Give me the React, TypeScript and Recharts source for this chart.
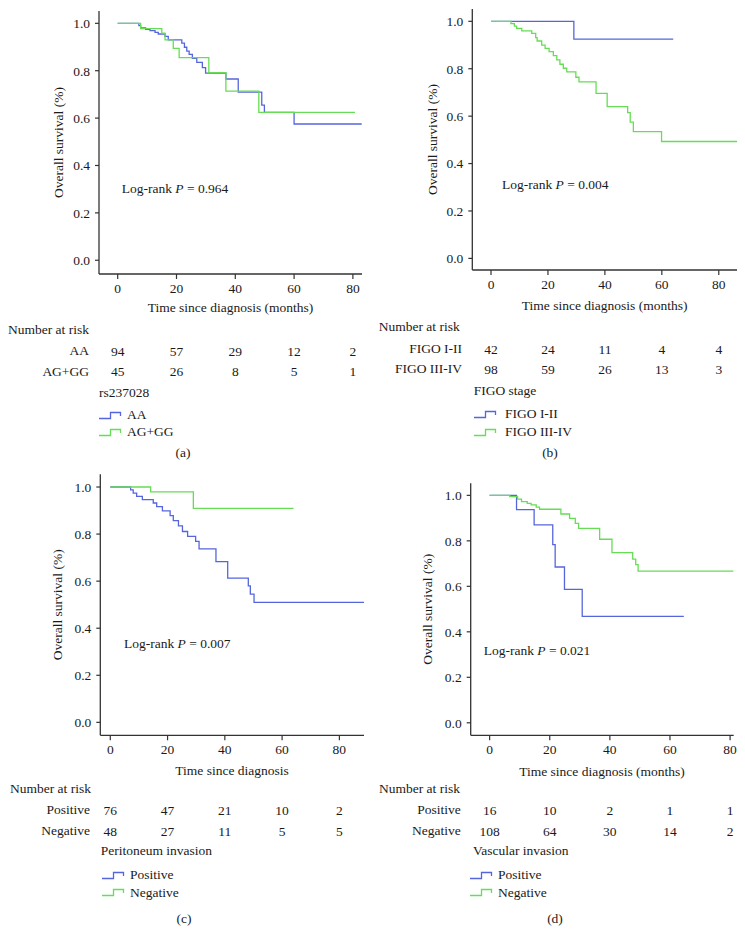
import React from 'react';
import { LineChart, Line, XAxis, YAxis } from 'recharts';

const FONT = '"Liberation Serif", "Times New Roman", serif';
const FS = 13.5;
const BLUE = '#5566dd';
const GREEN = '#66dd55';
const TEXT = '#1a1a1a';

// ---- Data ----
const xTicks = [0, 20, 40, 60, 80];
const yTicks = [0, 0.2, 0.4, 0.6, 0.8, 1.0];

// (a) rs237028
const aAATimes = [0, 7.2, 7.8, 9.5, 11, 12.7, 13.8, 16.1, 17.2, 21.8, 22.7, 23.5, 24.3, 25.4, 26.9, 28.8, 29.9, 36.8, 41, 49, 49.9, 60, 83];
const aAASurv = [1, 0.99, 0.981, 0.975, 0.969, 0.962, 0.955, 0.945, 0.93, 0.916, 0.899, 0.883, 0.869, 0.852, 0.835, 0.813, 0.79, 0.765, 0.71, 0.655, 0.624, 0.575, 0.575];
const aAGTimes = [0, 7.8, 15, 16.1, 18.9, 20.9, 31, 36.8, 48, 80.7];
const aAGSurv = [1, 0.978, 0.958, 0.93, 0.894, 0.855, 0.792, 0.714, 0.624, 0.624];
const aRiskAA = [94, 57, 29, 12, 2];
const aRiskAG = [45, 26, 8, 5, 1];

// (b) FIGO stage
const bI2Times = [0, 29.1, 64];
const bI2Surv = [1, 0.925, 0.925];
const bI34Times = [0, 7.0, 8.2, 9.0, 10.8, 14.3, 15.7, 16.2, 17.8, 19, 20.4, 21.9, 23.1, 24.2, 25.4, 26.6, 29.8, 30.9, 36.9, 40.8, 48, 48.9, 50, 59.9, 86.4];
const bI34Surv = [1, 0.99, 0.98, 0.97, 0.96, 0.949, 0.931, 0.917, 0.9, 0.886, 0.872, 0.855, 0.837, 0.819, 0.802, 0.787, 0.764, 0.745, 0.696, 0.64, 0.615, 0.575, 0.535, 0.493, 0.493];
const bRiskI2 = [42, 24, 11, 4, 4];
const bRiskI34 = [98, 59, 26, 13, 3];

// (c) Peritoneum invasion
const cPosTimes = [0, 7.1, 8.0, 9.2, 11.2, 15, 16.2, 18.2, 20.9, 22, 23.8, 25.2, 27, 29.8, 31, 36.9, 41, 48.2, 48.9, 50.2, 88.6];
const cPosSurv = [1, 0.988, 0.974, 0.96, 0.946, 0.932, 0.917, 0.899, 0.878, 0.857, 0.835, 0.811, 0.79, 0.769, 0.737, 0.683, 0.613, 0.58, 0.545, 0.51, 0.51];
const cNegTimes = [0, 14.1, 29, 64];
const cNegSurv = [1, 0.979, 0.909, 0.909];
const cRiskPos = [76, 47, 21, 10, 2];
const cRiskNeg = [48, 27, 11, 5, 5];

// (d) Vascular invasion
const dPosTimes = [0, 8.95, 14.8, 21, 21.8, 24.9, 30.8, 64.6];
const dPosSurv = [1, 0.937, 0.87, 0.783, 0.685, 0.587, 0.468, 0.468];
const dNegTimes = [0, 6.7, 9.3, 10.6, 12.5, 13.8, 15.5, 16.6, 23.7, 26.6, 28.5, 29.6, 36.6, 40.7, 47.6, 48.6, 49.4, 81.1];
const dNegSurv = [1, 0.994, 0.983, 0.972, 0.965, 0.958, 0.948, 0.939, 0.918, 0.899, 0.877, 0.855, 0.807, 0.748, 0.72, 0.695, 0.667, 0.667];
const dRiskPos = [16, 10, 2, 1, 1];
const dRiskNeg = [108, 64, 30, 14, 2];

const toPoints = (t: number[], s: number[]) => t.map((v, i) => ({ t: v, s: s[i] }));

type Panel = {
  left: number; top: number; width: number; height: number;
  plot: { l: number; r: number; t: number; b: number };
  xDomain: [number, number]; yDomain: [number, number];
  blue: { t: number; s: number }[]; green: { t: number; s: number }[];
  risk1: number[]; risk2: number[];
  rowOff: [number, number];
  yLabelOff: number;
  pVal: string; pX: number; pY: number;
  title: string; titleX: number; titleY: number;
  narX: number; narY: number;
  rowLabelR: number; rowLabels: [string, string];
  group: string; groupX: number; groupY: number;
  legIconX: number; legTextX: number; legY: [number, number];
  caption: string; capX: number; capY: number;
};

const panels: Panel[] = [
  {
    left: 0, top: 0, width: 372, height: 390,
    plot: { l: 99, r: 362, t: 11, b: 274 },
    xDomain: [-6.36, 83.1], yDomain: [-0.058, 1.052],
    blue: toPoints(aAATimes, aAASurv), green: toPoints(aAGTimes, aAGSurv),
    risk1: aRiskAA, risk2: aRiskAG, rowOff: [77, 97.7], yLabelOff: 58,
    pVal: '0.964', pX: 121.7, pY: 189,
    title: 'Time since diagnosis (months)', titleX: 230.5, titleY: 307.7,
    narX: 8, narY: 330, rowLabelR: 89, rowLabels: ['AA', 'AG+GG'],
    group: 'rs237028', groupX: 99, groupY: 393,
    legIconX: 99, legTextX: 127, legY: [415, 432],
    caption: '(a)', capX: 183, capY: 453,
  },
  {
    left: 372, top: 0, width: 373, height: 390,
    plot: { l: 472.3, r: 737, t: 9, b: 270 },
    xDomain: [-6.57, 86.4], yDomain: [-0.049, 1.052],
    blue: toPoints(bI2Times, bI2Surv), green: toPoints(bI34Times, bI34Surv),
    risk1: bRiskI2, risk2: bRiskI34, rowOff: [79, 99], yLabelOff: 60,
    pVal: '0.004', pX: 502, pY: 185,
    title: 'Time since diagnosis (months)', titleX: 604.6, titleY: 306,
    narX: 378.7, narY: 327, rowLabelR: 462, rowLabels: ['FIGO I-II', 'FIGO III-IV'],
    group: 'FIGO stage', groupX: 473.7, groupY: 390.7,
    legIconX: 474, legTextX: 505, legY: [414, 432],
    caption: '(b)', capX: 550, capY: 452.7,
  },
  {
    left: 0, top: 460, width: 372, height: 385,
    plot: { l: 100.3, r: 364, t: 474.3, b: 735.3 },
    xDomain: [-3.49, 88.6], yDomain: [-0.055, 1.054],
    blue: toPoints(cPosTimes, cPosSurv), green: toPoints(cNegTimes, cNegSurv),
    risk1: cRiskPos, risk2: cRiskNeg, rowOff: [75, 95.7], yLabelOff: 57,
    pVal: '0.007', pX: 124, pY: 644,
    title: 'Time since diagnosis', titleX: 232, titleY: 771,
    narX: 10, narY: 789, rowLabelR: 90, rowLabels: ['Positive', 'Negative'],
    group: 'Peritoneum invasion', groupX: 100.7, groupY: 850.7,
    legIconX: 101.7, legTextX: 130, legY: [875, 892.7],
    caption: '(c)', capX: 184, capY: 919,
  },
  {
    left: 372, top: 460, width: 373, height: 385,
    plot: { l: 470.7, r: 733.7, t: 483.3, b: 735.3 },
    xDomain: [-6.3, 81.2], yDomain: [-0.055, 1.053],
    blue: toPoints(dPosTimes, dPosSurv), green: toPoints(dNegTimes, dNegSurv),
    risk1: dRiskPos, risk2: dRiskNeg, rowOff: [75, 95.7], yLabelOff: 55,
    pVal: '0.021', pX: 483.7, pY: 650.7,
    title: 'Time since diagnosis (months)', titleX: 602, titleY: 772.3,
    narX: 379, narY: 789, rowLabelR: 460.7, rowLabels: ['Positive', 'Negative'],
    group: 'Vascular invasion', groupX: 473, groupY: 850.7,
    legIconX: 470, legTextX: 498, legY: [875, 892.7],
    caption: '(d)', capX: 555, capY: 919,
  },
];

function Txt({ x, y, anchor = 'start', children }: { x: number; y: number; anchor?: 'start' | 'end' | 'middle'; children: React.ReactNode }) {
  const style: React.CSSProperties = {
    position: 'absolute', top: y - 8, lineHeight: '16px', fontSize: FS,
    fontFamily: FONT, color: TEXT, whiteSpace: 'nowrap',
  };
  if (anchor === 'start') style.left = x;
  else if (anchor === 'end') style.right = 745 - x;
  else { style.left = x; style.transform = 'translateX(-50%)'; }
  return <div style={style}>{children}</div>;
}

function StepIcon({ x, y, color }: { x: number; y: number; color: string }) {
  return (
    <svg width={24} height={9} style={{ position: 'absolute', left: x, top: y - 4.5 }}>
      <path d="M0,7.5 H11.5 V1.5 H21.5 V5" fill="none" stroke={color} strokeWidth={1.3} />
    </svg>
  );
}

function KMPanel({ p }: { p: Panel }) {
  const axisY = p.plot.b - p.top;
  const xAxisHeight = p.top + p.height - p.plot.b;
  const tick = (props: any) => {
    const { x, payload } = props;
    const i = xTicks.indexOf(payload.value);
    const common = { x, textAnchor: 'middle' as const, dominantBaseline: 'central' as const, fontSize: FS, fontFamily: FONT, fill: TEXT };
    return (
      <g>
        <text {...common} y={axisY + 14}>{payload.value}</text>
        <text {...common} y={axisY + p.rowOff[0]}>{p.risk1[i]}</text>
        <text {...common} y={axisY + p.rowOff[1]}>{p.risk2[i]}</text>
      </g>
    );
  };
  return (
    <div style={{ position: 'absolute', left: p.left, top: p.top }}>
      <LineChart
        width={p.width}
        height={p.height}
        margin={{ top: p.plot.t - p.top, left: 0, right: p.left + p.width - p.plot.r, bottom: 0 }}
      >
        <XAxis
          type="number" dataKey="t" domain={p.xDomain} ticks={xTicks} allowDataOverflow
          height={xAxisHeight} tickSize={5} tick={tick} interval={0}
          axisLine={{ stroke: '#333', strokeWidth: 1.3 }} tickLine={{ stroke: '#333', strokeWidth: 1.2 }}
        />
        <YAxis
          type="number" domain={p.yDomain} ticks={yTicks} allowDataOverflow
          width={p.plot.l - p.left} tickSize={4} tickMargin={5} interval={0}
          tickFormatter={(v: number) => v.toFixed(1)}
          tick={{ fontSize: FS, fontFamily: FONT, fill: TEXT }}
          axisLine={{ stroke: '#333', strokeWidth: 1.3 }} tickLine={{ stroke: '#333', strokeWidth: 1.2 }}
          label={{ value: 'Overall survival (%)', angle: -90, position: 'insideLeft', offset: p.yLabelOff, style: { textAnchor: 'middle', fontSize: FS, fontFamily: FONT, fill: TEXT } }}
        />
        <Line data={p.blue} dataKey="s" type="stepAfter" stroke={BLUE} strokeWidth={1.3} dot={false} isAnimationActive={false} />
        <Line data={p.green} dataKey="s" type="stepAfter" stroke={GREEN} strokeWidth={1.3} dot={false} isAnimationActive={false} />
      </LineChart>
    </div>
  );
}

function PanelText({ p }: { p: Panel }) {
  return (
    <>
      <Txt x={p.pX} y={p.pY}>Log-rank <i>P</i> = {p.pVal}</Txt>
      <Txt x={p.titleX} y={p.titleY} anchor="middle">{p.title}</Txt>
      <Txt x={p.narX} y={p.narY}>Number at risk</Txt>
      <Txt x={p.rowLabelR} y={p.plot.b + p.rowOff[0]} anchor="end">{p.rowLabels[0]}</Txt>
      <Txt x={p.rowLabelR} y={p.plot.b + p.rowOff[1]} anchor="end">{p.rowLabels[1]}</Txt>
      <Txt x={p.groupX} y={p.groupY}>{p.group}</Txt>
      <StepIcon x={p.legIconX} y={p.legY[0]} color={BLUE} />
      <Txt x={p.legTextX} y={p.legY[0]}>{p.rowLabels[0]}</Txt>
      <StepIcon x={p.legIconX} y={p.legY[1]} color={GREEN} />
      <Txt x={p.legTextX} y={p.legY[1]}>{p.rowLabels[1]}</Txt>
      <Txt x={p.capX} y={p.capY} anchor="middle">{p.caption}</Txt>
    </>
  );
}

export default function App() {
  return (
    <div style={{ position: 'absolute', left: 0, top: 0, width: 745, height: 945, background: '#fff', overflow: 'hidden' }}>
      {panels.map((p, i) => <KMPanel key={'c' + i} p={p} />)}
      {panels.map((p, i) => <PanelText key={'t' + i} p={p} />)}
    </div>
  );
}
